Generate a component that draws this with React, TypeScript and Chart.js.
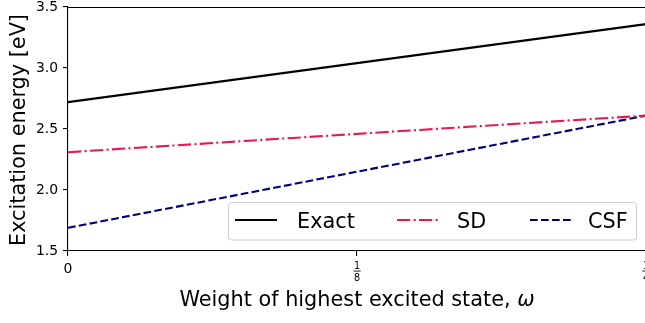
import React, { useEffect, useRef } from "react";
import { Chart, registerables } from "chart.js";

Chart.register(...registerables);

// ---- data ----
const omegaValues = [0, 0.25];
const exactValues = [2.72, 3.36];
const sdValues = [2.31, 2.61];
const csfValues = [1.69, 2.61];

const xTickValues = [0, 0.125, 0.25];
const xTickLabels = ["0", "1/8", "1/4"];
const yTickValues = [1.5, 2.0, 2.5, 3.0, 3.5];

const seriesNames = ["Exact", "SD", "CSF"];
const seriesColors = ["#000000", "#e8194c", "#00007f"];
const seriesDashes: number[][] = [[], [13.3, 3.3, 2.1, 3.3], [7.7, 3.3]];

const xTitleText = "Weight of highest excited state, ";
const xTitleSymbol = "\u03c9";
const yTitle = "Excitation energy [eV]";

const FONT = "'DejaVu Sans', sans-serif";
const CANVAS_W = 660;
const CANVAS_H = 323;

const decorPlugin = {
  id: "decor",
  afterDraw(chart: any) {
    const ctx = chart.ctx as CanvasRenderingContext2D;
    const area = chart.chartArea;
    const xs = chart.scales.x;
    ctx.save();
    // frame (top + right spines)
    ctx.strokeStyle = "#000";
    ctx.lineWidth = 1.1;
    ctx.beginPath();
    ctx.moveTo(area.left, Math.round(area.top) + 0.5);
    ctx.lineTo(area.right, Math.round(area.top) + 0.5);
    ctx.moveTo(Math.round(area.right) + 0.5, area.top);
    ctx.lineTo(Math.round(area.right) + 0.5, area.bottom);
    ctx.stroke();

    // x tick labels (fractions)
    ctx.fillStyle = "#000";
    ctx.textAlign = "center";
    ctx.textBaseline = "alphabetic";
    xTickValues.forEach((v, i) => {
      const px = xs.getPixelForValue(v);
      const lab = xTickLabels[i];
      if (lab.includes("/")) {
        const [n, d] = lab.split("/");
        ctx.font = `9.7px ${FONT}`;
        ctx.fillText(n, px, 269);
        ctx.fillText(d, px, 281);
        const w = Math.max(ctx.measureText(n).width, ctx.measureText(d).width) + 1;
        ctx.fillRect(px - w / 2, 270.6, w, 0.9);
      } else {
        ctx.font = `13.9px ${FONT}`;
        ctx.fillText(lab, px, 273);
      }
    });

    // x axis title with italic omega
    const titleSize = 20.8;
    ctx.textAlign = "left";
    ctx.font = `${titleSize}px ${FONT}`;
    const w1 = ctx.measureText(xTitleText).width;
    ctx.font = `italic ${titleSize}px ${FONT}`;
    const w2 = ctx.measureText(xTitleSymbol).width;
    const startX = (area.left + area.right) / 2 - (w1 + w2) / 2;
    ctx.font = `${titleSize}px ${FONT}`;
    ctx.fillText(xTitleText, startX, 306);
    ctx.font = `italic ${titleSize}px ${FONT}`;
    ctx.fillText(xTitleSymbol, startX + w1, 306);

    // y axis title
    ctx.font = `${titleSize}px ${FONT}`;
    ctx.textAlign = "center";
    ctx.save();
    ctx.translate(25, (area.top + area.bottom) / 2 + 1);
    ctx.rotate(-Math.PI / 2);
    ctx.fillText(yTitle, 0, 0);
    ctx.restore();

    // legend
    const lx = 228.5, ly = 202.5, lw = 408, lh = 37.5, r = 3;
    ctx.beginPath();
    ctx.moveTo(lx + r, ly);
    ctx.lineTo(lx + lw - r, ly);
    ctx.arcTo(lx + lw, ly, lx + lw, ly + r, r);
    ctx.lineTo(lx + lw, ly + lh - r);
    ctx.arcTo(lx + lw, ly + lh, lx + lw - r, ly + lh, r);
    ctx.lineTo(lx + r, ly + lh);
    ctx.arcTo(lx, ly + lh, lx, ly + lh - r, r);
    ctx.lineTo(lx, ly + r);
    ctx.arcTo(lx, ly, lx + r, ly, r);
    ctx.closePath();
    ctx.fillStyle = "rgba(255,255,255,0.8)";
    ctx.fill();
    ctx.strokeStyle = "#cccccc";
    ctx.lineWidth = 1;
    ctx.stroke();

    const handleX = [235, 397, 530];
    const textX = [297, 457, 588];
    ctx.font = `20.8px ${FONT}`;
    ctx.textAlign = "left";
    seriesNames.forEach((name, i) => {
      ctx.strokeStyle = seriesColors[i];
      ctx.lineWidth = 2.1;
      ctx.setLineDash(seriesDashes[i]);
      ctx.beginPath();
      ctx.moveTo(handleX[i], 220);
      ctx.lineTo(handleX[i] + 42, 220);
      ctx.stroke();
      ctx.setLineDash([]);
      ctx.fillStyle = "#000";
      ctx.fillText(name, textX[i], 227.5);
    });
    ctx.restore();
  },
};

export default function App() {
  const ref = useRef<HTMLCanvasElement>(null);
  useEffect(() => {
    document.body.style.margin = "0";
    const canvas = ref.current!;
    const mk = (vals: number[]) => omegaValues.map((x, i) => ({ x, y: vals[i] }));
    const seriesData = [exactValues, sdValues, csfValues];
    const chart = new Chart(canvas, {
      type: "line",
      data: {
        datasets: seriesNames.map((name, i) => ({
          label: name,
          data: mk(seriesData[i]),
          borderColor: seriesColors[i],
          backgroundColor: seriesColors[i],
          borderWidth: 2.1,
          borderDash: seriesDashes[i],
          borderCapStyle: "butt" as const,
          pointRadius: 0,
          tension: 0,
          fill: false,
        })),
      },
      options: {
        animation: false,
        responsive: false,
        devicePixelRatio: 1,
        layout: { padding: { top: 7, right: CANVAS_W - 646, left: 0, bottom: 0 } },
        plugins: { legend: { display: false }, tooltip: { enabled: false } },
        events: [],
        scales: {
          x: {
            type: "linear",
            min: 0,
            max: 0.25,
            afterBuildTicks: (s: any) => {
              s.ticks = xTickValues.map((v) => ({ value: v }));
            },
            afterFit: (s: any) => {
              s.height = CANVAS_H - 251;
              s.paddingLeft = 0;
              s.paddingRight = 0;
              s.paddingTop = 0;
              s.paddingBottom = 0;
            },
            ticks: { display: false },
            grid: {
              drawOnChartArea: false,
              drawTicks: true,
              tickLength: 5,
              color: "#000",
              lineWidth: 1.1,
            },
            border: { color: "#000", width: 1.1 },
          },
          y: {
            type: "linear",
            min: 1.5,
            max: 3.5,
            afterBuildTicks: (s: any) => {
              s.ticks = yTickValues.map((v) => ({ value: v }));
            },
            afterFit: (s: any) => {
              s.width = 68;
              s.paddingLeft = 0;
              s.paddingRight = 0;
              s.paddingTop = 0;
              s.paddingBottom = 0;
            },
            ticks: {
              color: "#000",
              padding: 5,
              font: { family: FONT, size: 13.9 },
              callback: (v: any) => Number(v).toFixed(1),
            },
            grid: {
              drawOnChartArea: false,
              drawTicks: true,
              tickLength: 5,
              color: "#000",
              lineWidth: 1.1,
            },
            border: { color: "#000", width: 1.1 },
          },
        },
      },
      plugins: [decorPlugin],
    });
    return () => chart.destroy();
  }, []);
  return (
    <div style={{ width: 645, height: 323, overflow: "hidden", position: "relative" }}>
      <canvas ref={ref} width={CANVAS_W} height={CANVAS_H} style={{ display: "block" }} />
    </div>
  );
}
